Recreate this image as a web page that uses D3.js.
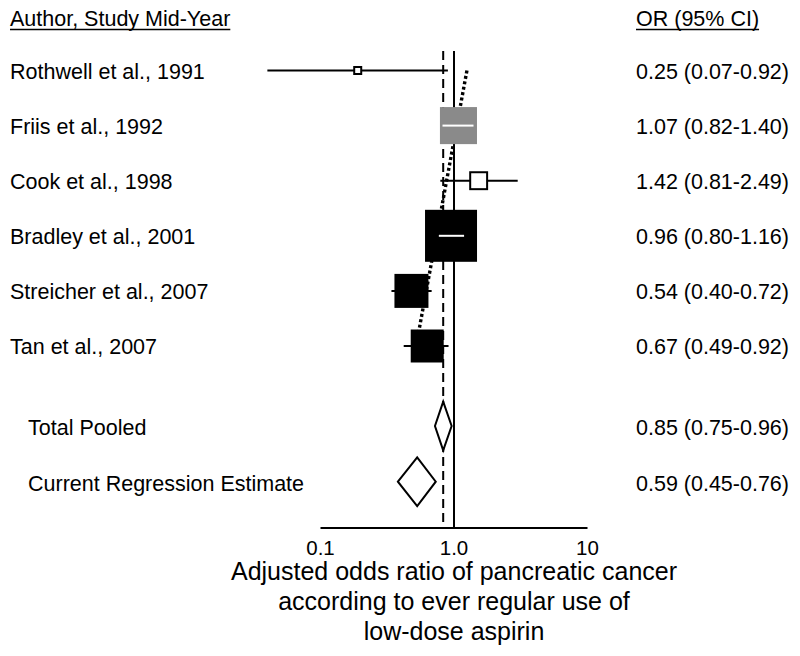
<!DOCTYPE html>
<html>
<head>
<meta charset="utf-8">
<script src="https://cdn.jsdelivr.net/npm/d3@7"></script>
<style>
  html, body { margin: 0; padding: 0; background: #fff; }
  svg { display: block; font-family: "Liberation Sans", Arial, sans-serif; }
</style>
</head>
<body>
<svg id="chart" width="800" height="656"></svg>
<script>
// ---------------- data ----------------
const studies = ["Rothwell et al., 1991", "Friis et al., 1992", "Cook et al., 1998",
                 "Bradley et al., 2001", "Streicher et al., 2007", "Tan et al., 2007"];
const design  = ["RCT", "Cohort", "RCT", "Case-control", "Case-control", "Case-control"];
const orEst   = [0.19, 1.08, 1.53, 0.95, 0.48, 0.63];
const ciLow   = [0.04, 0.82, 0.79, 0.77, 0.34, 0.42];
const ciHigh  = [0.90, 1.40, 3.00, 1.19, 0.68, 0.91];
const weight  = [1.2, 20.3, 5.3, 40.0, 17.1, 16.1];
const orText  = ["0.25 (0.07-0.92)", "1.07 (0.82-1.40)", "1.42 (0.81-2.49)",
                 "0.96 (0.80-1.16)", "0.54 (0.40-0.72)", "0.67 (0.49-0.92)"];

const summaryLabels = ["Total Pooled", "Current Regression Estimate"];
const summaryEst    = [0.83, 0.53];
const summaryLow    = [0.72, 0.38];
const summaryHigh   = [0.96, 0.73];
const summaryText   = ["0.85 (0.75-0.96)", "0.59 (0.45-0.76)"];

const regressionOR  = [1.25, 0.52];   // fitted OR at first (1991) and last (2007) study
const nullOR = 1.0;
const pooledOR = 0.83;

const tickValues = [0.1, 1, 10];
const tickLabels = ["0.1", "1.0", "10"];
const headers = ["Author, Study Mid-Year", "OR (95% CI)"];
const xTitle = ["Adjusted odds ratio of pancreatic cancer",
                "according to ever regular use of",
                "low-dose aspirin"];

// ---------------- layout ----------------
const svg = d3.select("#chart");
const fontSize = 21.5;
const x = d3.scaleLog().domain([0.1, 10]).range([320.5, 587.5]);
const yStudy = d3.scaleLinear().domain([0, studies.length - 1]).range([70.5, 346]);
const ySummary = d3.scaleLinear().domain([0, 1]).range([426, 481.7]);
const size = d3.scaleSqrt().domain([0, 40]).range([0, 52]);
const fillBy = d3.scaleOrdinal().domain(["RCT", "Cohort", "Case-control"])
                 .range(["#ffffff", "#8a8a8a", "#000000"]);
const lineTop = 51, axisY = 528;

const studyData = studies.map((s, i) => ({
  name: s, design: design[i], est: orEst[i], lo: ciLow[i], hi: ciHigh[i],
  w: weight[i], text: orText[i], y: yStudy(i)
}));
const summaryData = summaryLabels.map((s, i) => ({
  name: s, est: summaryEst[i], lo: summaryLow[i], hi: summaryHigh[i],
  text: summaryText[i], y: ySummary(i)
}));

// headers with underline
const headerX = [10, 636];
headers.forEach((h, i) => {
  const t = svg.append("text").attr("x", headerX[i]).attr("y", 26)
    .attr("font-size", fontSize).attr("fill", "#000").text(h);
  const len = t.node().getComputedTextLength();
  svg.append("line").attr("x1", headerX[i]).attr("x2", headerX[i] + len)
    .attr("y1", 29.5).attr("y2", 29.5).attr("stroke", "#000").attr("stroke-width", 1.5);
});

// reference lines
svg.append("line").attr("x1", x(nullOR)).attr("x2", x(nullOR))
  .attr("y1", lineTop).attr("y2", axisY)
  .attr("stroke", "#000").attr("stroke-width", 2);
svg.append("line").attr("x1", x(pooledOR)).attr("x2", x(pooledOR))
  .attr("y1", lineTop).attr("y2", axisY - 2)
  .attr("stroke", "#000").attr("stroke-width", 2).attr("stroke-dasharray", "9,5");

// regression dotted line
svg.append("line")
  .attr("x1", x(regressionOR[0])).attr("y1", yStudy(0))
  .attr("x2", x(regressionOR[1])).attr("y2", yStudy(studies.length - 1))
  .attr("stroke", "#000").attr("stroke-width", 3.4).attr("stroke-dasharray", "3,2.5");

// CI lines
svg.append("g").selectAll("line").data(studyData).join("line")
  .attr("x1", d => x(d.lo)).attr("x2", d => x(d.hi))
  .attr("y1", d => d.y).attr("y2", d => d.y)
  .attr("stroke", "#000").attr("stroke-width", 2);

// boxes
svg.append("g").selectAll("rect").data(studyData).join("rect")
  .attr("x", d => {
    const s = size(d.w), open = d.design === "RCT";
    return x(d.est) - s / 2 + (open ? 1 : 0);
  })
  .attr("y", d => {
    const s = size(d.w), open = d.design === "RCT";
    return d.y - s / 2 + (open ? 1 : 0);
  })
  .attr("width", d => size(d.w) - (d.design === "RCT" ? 2 : 0))
  .attr("height", d => size(d.w) - (d.design === "RCT" ? 2 : 0))
  .attr("fill", d => fillBy(d.design))
  .attr("stroke", d => d.design === "RCT" ? "#000" : "none")
  .attr("stroke-width", 2);

// white CI line where the interval lies inside the box
svg.append("g").selectAll("line")
  .data(studyData.filter(d => {
    const s = size(d.w);
    return d.design !== "RCT" && x(d.lo) >= x(d.est) - s / 2 && x(d.hi) <= x(d.est) + s / 2;
  }))
  .join("line")
  .attr("x1", d => x(d.lo)).attr("x2", d => x(d.hi))
  .attr("y1", d => d.y).attr("y2", d => d.y)
  .attr("stroke", "#fff").attr("stroke-width", 2);

// summary diamonds
const halfH = 24.4;
svg.append("g").selectAll("path").data(summaryData).join("path")
  .attr("d", d => `M${x(d.lo)},${d.y} L${x(d.est)},${d.y - halfH} L${x(d.hi)},${d.y} L${x(d.est)},${d.y + halfH} Z`)
  .attr("fill", "#fff").attr("stroke", "#000").attr("stroke-width", 2)
  .attr("stroke-linejoin", "miter");

// labels
svg.append("g").selectAll("text").data(studyData).join("text")
  .attr("x", 10).attr("y", d => d.y + 8)
  .attr("font-size", fontSize).text(d => d.name);
svg.append("g").selectAll("text").data(studyData).join("text")
  .attr("x", 636).attr("y", d => d.y + 8)
  .attr("font-size", fontSize).text(d => d.text);
svg.append("g").selectAll("text").data(summaryData).join("text")
  .attr("x", 28).attr("y", d => d.y + 9)
  .attr("font-size", fontSize).text(d => d.name);
svg.append("g").selectAll("text").data(summaryData).join("text")
  .attr("x", 636).attr("y", d => d.y + 9)
  .attr("font-size", fontSize).text(d => d.text);

// axis (line from d3 axis, labels drawn at the scale's tick positions)
const axis = d3.axisBottom(x).tickValues(tickValues).tickFormat("").tickSize(0);
const gAxis = svg.append("g").attr("transform", `translate(0,${axisY})`).call(axis);
gAxis.select(".domain").attr("stroke", "#000").attr("stroke-width", 2)
  .attr("d", `M${x.range()[0]},0H${x.range()[1]}`);
svg.append("g").selectAll("text").data(tickValues).join("text")
  .attr("x", d => x(d)).attr("y", axisY + 27)
  .attr("text-anchor", "middle").attr("font-size", 20.5).attr("fill", "#000")
  .text((d, i) => tickLabels[i]);

// x title
svg.append("g").selectAll("text").data(xTitle).join("text")
  .attr("x", x(nullOR)).attr("y", (d, i) => 580 + i * 30)
  .attr("text-anchor", "middle").attr("font-size", 25).text(d => d);
</script>
</body>
</html>
